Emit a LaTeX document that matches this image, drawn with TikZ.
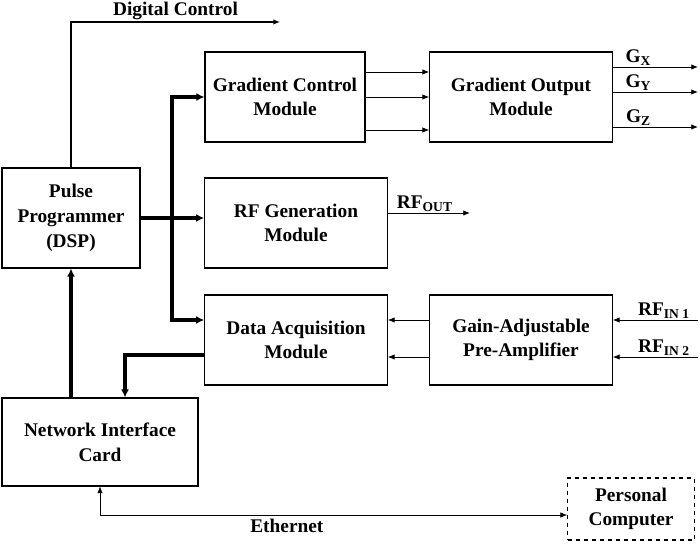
\documentclass[tikz,border=0pt]{standalone}
\usepackage{fontspec}
\setmainfont{Liberation Serif}
\usetikzlibrary{arrows.meta}
\tikzset{
blk/.style={draw, thick, align=center, font=\bfseries\fontsize{14.5}{18.5}\selectfont, inner sep=0pt},
lbl/.style={font=\bfseries\fontsize{14.5}{17}\selectfont, inner sep=1pt},
sig/.style={-{Latex[length=5pt,width=4pt]}, semithick},
bus/.style={-{Latex[length=6pt,width=6pt]}, line width=2.6pt}}
\begin{document}
\begin{tikzpicture}[x=0.75pt,y=-0.75pt]
    \useasboundingbox (0,0) rectangle (700,548);

                \node[blk, minimum width=103.5pt, minimum height=75pt] (P) at (71,218) {Pulse\\Programmer\\(DSP)};
                \node[blk, minimum width=120pt, minimum height=67.5pt] (GC) at (285,97) {Gradient Control\\Module};
                \node[blk, minimum width=137pt, minimum height=67.5pt] (GO) at (521,97) {Gradient Output\\Module};
                \node[blk, minimum width=137pt, minimum height=67.5pt] (RF) at (296,223) {RF Generation\\Module};
                \node[blk, minimum width=137pt, minimum height=67.5pt] (DA) at (296,340) {Data Acquisition\\Module};
                \node[blk, minimum width=137pt, minimum height=67.5pt] (GA) at (521,340) {Gain-Adjustable\\Pre-Amplifier};
                \node[blk, minimum width=147pt, minimum height=66pt] (NI) at (100,442) {Network Interface\\Card};
                \node[blk, dashed, minimum width=95pt, minimum height=46.5pt] (PC) at (631,509) {Personal\\Computer};

                \coordinate (dc) at (280,22);
                \coordinate (b1) at (172,218);
                \coordinate (gx) at (698,67);
                \coordinate (gy) at (698,92);
                \coordinate (gz) at (698,127);
                \coordinate (ro) at (470,213);
                \coordinate (r1) at (698,320);
                \coordinate (r2) at (698,357);

                \draw[sig, thick] (P.north) |- (dc) node[lbl, pos=0.75, above] {Digital Control};
                \draw[bus] (P.east |- b1) -- (b1) |- (GC.west);
                \draw[bus] (P.east |- b1) -- (RF.west |- b1);
                \draw[bus] (b1) |- (DA.west |- 0,320);
                \foreach \y in {72,97,130}
                    \draw[sig] (GC.east |- 0,\y) -- (GO.west |- 0,\y);
                \draw[sig] (GO.east |- gx) -- (gx) node[lbl, pos=0.3, above] {G\textsubscript{X}};
                \draw[sig] (GO.east |- gy) -- (gy) node[lbl, pos=0.3, above] {G\textsubscript{Y}};
                \draw[sig] (GO.east |- gz) -- (gz) node[lbl, pos=0.3, above] {G\textsubscript{Z}};
                \draw[sig] (RF.east |- ro) -- (ro) node[lbl, pos=0.45, above] {RF\textsubscript{OUT}};
                \draw[sig] (GA.west |- r1) -- (DA.east |- r1);
                \draw[sig] (GA.west |- r2) -- (DA.east |- r2);
                \draw[sig] (r1) -- (GA.east |- r1) node[lbl, pos=0.4, above] {RF\textsubscript{IN 1}};
                \draw[sig] (r2) -- (GA.east |- r2) node[lbl, pos=0.4, above] {RF\textsubscript{IN 2}};
                \draw[bus] (DA.west |- 0,355) -| (NI.north -| 125,0);
                \draw[bus] (NI.north -| P.south) -- (P.south);
                \draw[{Latex[length=5pt,width=4pt]}-{Latex[length=5pt,width=4pt]}] (NI.south -| 100,0) |- (PC.west |- 0,515) node[lbl, pos=0.7, below=2pt] {Ethernet};

            \end{tikzpicture}
\end{document}
